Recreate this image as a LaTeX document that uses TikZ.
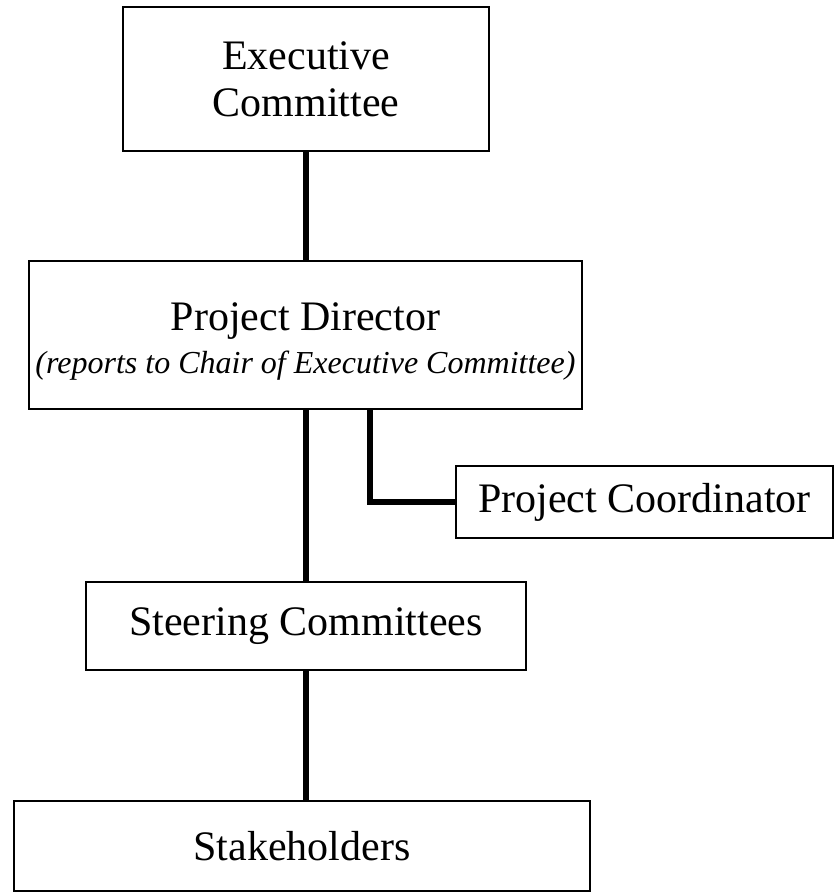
\documentclass[tikz,border=0pt]{standalone}
\usepackage{fontspec}
\setmainfont{Liberation Serif}
\begin{document}
\begin{tikzpicture}[x=1pt,y=1pt,
  box/.style={draw=black, line width=2pt, fill=white, inner sep=0pt, align=center,
    font=\fontsize{42}{47}\selectfont},
  conn/.style={line width=6pt}]
\useasboundingbox (0,0) rectangle (835,-892);
\node[box, minimum width=366pt, minimum height=144pt] (exec) at (306,-79) {Executive\\Committee};
\node[box, minimum width=553pt, minimum height=148pt] (pd) at (305.5,-335)
  {\\[-6pt]Project Director\\[-4pt]{\fontsize{32}{36}\selectfont\itshape (reports to Chair of Executive Committee)}};
\node[box, minimum width=377pt, minimum height=72pt] (pc) at (644.5,-502) {Project Coordinator};
\node[box, minimum width=440pt, minimum height=88pt] (steer) at (306,-626) {Steering Committees};
\node[box, minimum width=576pt, minimum height=90pt] (stake) at (302,-846) {Stakeholders};
\coordinate (br) at (370,-420);
\draw[conn] (exec.south) -- (exec.south |- pd.north);
\draw[conn] (steer.north |- pd.south) -- (steer.north);
\draw[conn] (pd.south -| br) |- (pc.west);
\draw[conn] (steer.south) -- (steer.south |- stake.north);
\end{tikzpicture}
\end{document}
